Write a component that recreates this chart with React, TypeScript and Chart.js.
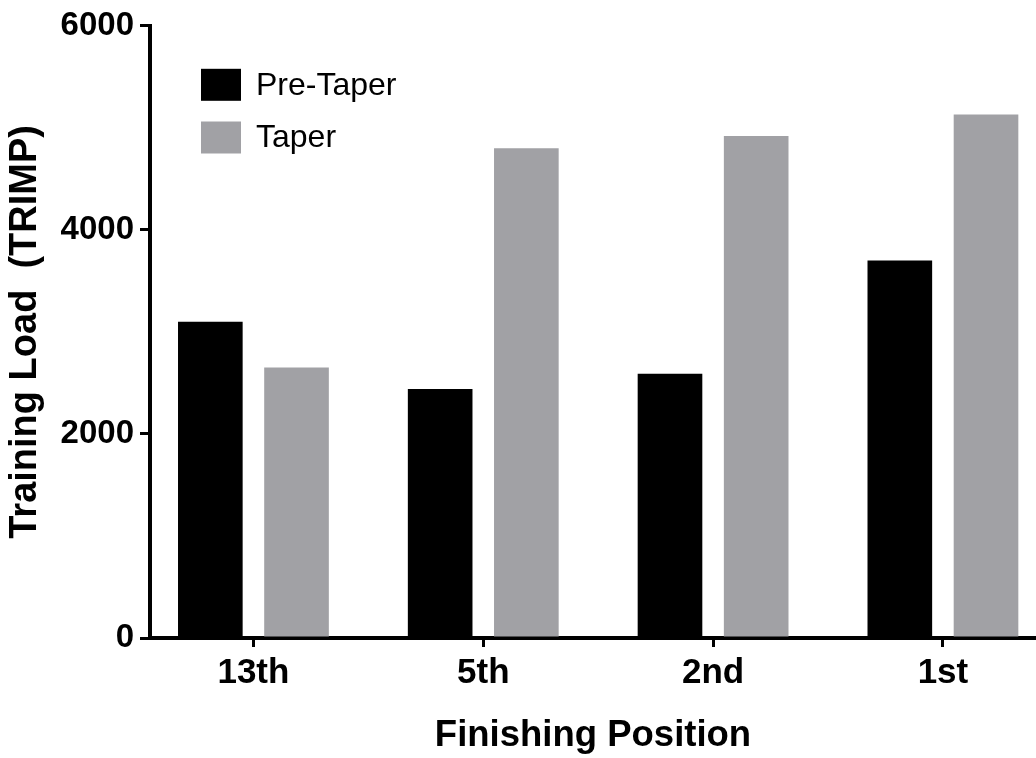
import React, { useEffect, useRef } from "react";
import { Chart, registerables } from "chart.js";

Chart.register(...registerables);

const categories = ["13th", "5th", "2nd", "1st"];
const preTaper = [3100, 2440, 2590, 3700];
const taper = [2650, 4800, 4920, 5130];
const yTicks = [0, 2000, 4000, 6000];
const seriesNames = ["Pre-Taper", "Taper"];
const seriesColors = ["#000000", "#a1a1a5"];

const FONT = "'Liberation Sans', Arial, Helvetica, sans-serif";

const legendPlugin = {
  id: "insideLegend",
  afterDraw(chart: any) {
    const { ctx, chartArea } = chart;
    const boxW = 40;
    const boxH = 32;
    const rowGap = 52.7;
    const x0 = chartArea.left + 51;
    const y0 = chartArea.top + 43;
    ctx.save();
    ctx.font = `32px ${FONT}`;
    ctx.textBaseline = "middle";
    ctx.textAlign = "left";
    chart.data.datasets.forEach((ds: any, i: number) => {
      const y = y0 + i * rowGap;
      ctx.fillStyle = ds.backgroundColor;
      ctx.fillRect(x0, y, boxW, boxH);
      ctx.fillStyle = "#000";
      ctx.fillText(ds.label, x0 + 55, y + boxH / 2 + 1);
    });
    ctx.restore();
  },
};

export default function App() {
  const ref = useRef<HTMLCanvasElement | null>(null);

  useEffect(() => {
    if (!ref.current) return;
    Chart.defaults.color = "#000";
    const chart = new Chart(ref.current, {
      type: "bar",
      data: {
        datasets: [
          {
            label: seriesNames[0],
            data: preTaper.map((v, i) => ({ x: i + 0.5, y: v })),
            backgroundColor: seriesColors[0],
            borderWidth: 0,
          },
          {
            label: seriesNames[1],
            data: taper.map((v, i) => ({ x: i + 0.5, y: v })),
            backgroundColor: seriesColors[1],
            borderWidth: 0,
          },
        ],
      },
      options: {
        animation: false,
        responsive: false,
        categoryPercentage: 0.75,
        barPercentage: 0.75,
        layout: { padding: { top: 25, right: 0, left: 0, bottom: 0 } },
        plugins: {
          legend: { display: false },
          tooltip: { enabled: false },
        },
        scales: {
          x: {
            type: "linear",
            min: 0.05,
            max: 3.905,
            offset: false,
            afterBuildTicks: (scale: any) => {
              scale.ticks = categories.map((_, i) => ({ value: i + 0.5 }));
            },
            afterFit: (scale: any) => {
              scale.height = 120;
            },
            ticks: {
              autoSkip: false,
              maxRotation: 0,
              padding: 5,
              color: "#000",
              font: { family: FONT, size: 35, weight: "bold" },
              callback: (v: any) => categories[Math.round(Number(v) - 0.5)] ?? "",
            },
            grid: {
              display: true,
              offset: false,
              drawOnChartArea: false,
              drawTicks: true,
              tickLength: 9,
              lineWidth: 3,
              color: "#000",
            },
            border: { display: true, width: 4, color: "#000" },
            title: {
              display: true,
              text: "Finishing Position",
              color: "#000",
              font: { family: FONT, size: 36.5, weight: "bold", lineHeight: 1 },
              padding: { top: 0, bottom: 4 },
            },
          },
          y: {
            min: 0,
            max: 6000,
            afterBuildTicks: (scale: any) => {
              scale.ticks = yTicks.map((v) => ({ value: v }));
            },
            afterFit: (scale: any) => {
              scale.width = 150;
            },
            ticks: {
              padding: 6,
              color: "#000",
              font: { family: FONT, size: 33, weight: "bold" },
              callback: (v: any) => String(v),
            },
            grid: {
              display: true,
              drawOnChartArea: false,
              drawTicks: true,
              tickLength: 10,
              lineWidth: 3,
              color: "#000",
            },
            border: { display: true, width: 4, color: "#000" },
            title: {
              display: true,
              text: "Training Load  (TRIMP)",
              color: "#000",
              font: { family: FONT, size: 38, weight: "bold", lineHeight: 1 },
              padding: { top: 7, bottom: 0 },
            },
          },
        },
      } as any,
      plugins: [legendPlugin],
    });
    return () => chart.destroy();
  }, []);

  return (
    <div style={{ position: "fixed", left: 0, top: 0, width: 1036, height: 758, background: "#fff" }}>
      <canvas ref={ref} width={1036} height={758} style={{ display: "block" }} />
    </div>
  );
}
